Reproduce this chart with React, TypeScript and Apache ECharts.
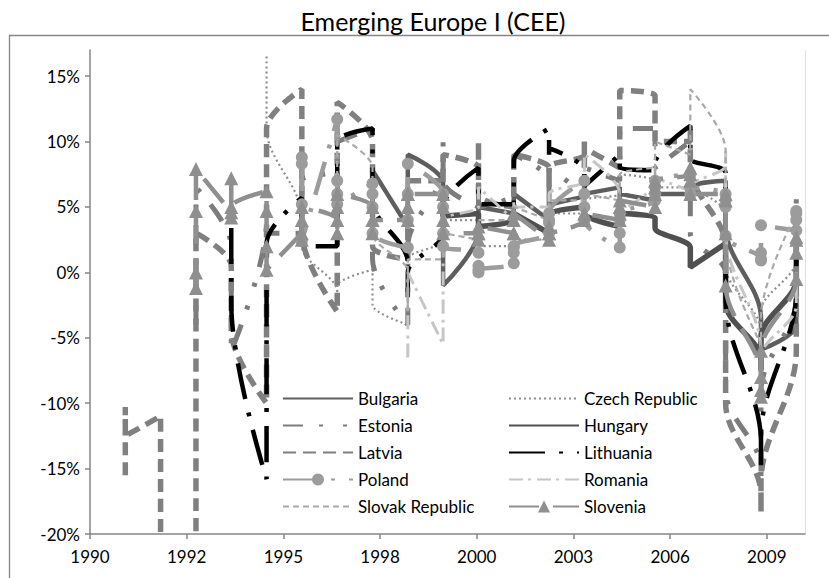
import React, { useEffect, useRef } from "react";
import * as echarts from "echarts";

// ---- data (quarterly y/y values, %, four per year, all plotted at the year's date) ----
const chartTitle = "Emerging Europe I (CEE)";
const xTickDays = [0, 1000, 2000, 3000, 4000, 5000, 6000, 7000];
const yTicks = [-0.2, -0.15, -0.1, -0.05, 0, 0.05, 0.1, 0.15];
const legendLeftColumn = ["Bulgaria", "Estonia", "Latvia", "Poland", "Slovak Republic"];
const legendRightColumn = ["Czech Republic", "Hungary", "Lithuania", "Romania", "Slovenia"];

const bulgariaStart = 1998;
const bulgaria = [
  6, 7, 7.5, 7.8,
  3.5, 5, 7, 9,
  6.8, 3, 1, -1,
  3.2, 4, 4.5, 5,
  4.5, 4.8, 5.5, 6,
  4, 4.5, 5, 5,
  6, 6.5, 6.5, 6,
  6.5, 6, 5.5, 6,
  5.5, 6.5, 6.5, 6,
  6, 6.5, 5.5, 6.5,
  7, 7, 6.8, 3.5,
  -3.5, -5, -5.4, -5.9,
  -4, -1.5, 0.5, 2,
];

const czechStart = 1995;
const czech = [
  16.5, 13, 11.3, 11,
  4.2, 3.5, 3, 2,
  -1.5, -2, -1.5, -1,
  0.2, -1, -2, -2.5,
  -4, -2, 0, 1,
  2.5, 3.5, 4.5, 4,
  4, 3, 2.5, 2,
  2, 1.5, 1.5, 2.5,
  2.5, 3.5, 4, 4.5,
  4.5, 4.5, 5, 5.5,
  6, 6.5, 7, 7.5,
  7, 7, 7, 6.5,
  6.5, 6, 6, 6.5,
  4.5, 4.5, 3.5, 0.5,
  -4.5, -5, -4.5, -3,
  1, 2.5, 2.5, 2.5,
];

const estoniaStart = 1993;
const estonia = [
  -4, 0, 4, 6.5,
  2, -1, -4, -6,
  4, 5, 4, 3,
  3, 4, 5, 7,
  8, 12, 13, 10,
  11, 6, 4, 1,
  -4, -3, -1, 2,
  8, 10, 9, 7,
  5, 7, 6, 5,
  6, 7, 8, 9,
  7, 5, 6, 8,
  6, 7, 6, 8,
  7, 9, 10, 11,
  11, 10, 9, 8,
  10, 7, 5, 3,
  0, -1, -3, -9,
  -15, -16, -15, -9,
  -2, 3, 5, 6.5,
];

const hungaryStart = 2000;
const hungary = [
  6.5, 5.5, 5, 4.3,
  4.5, 4, 3.8, 3.5,
  4, 4.5, 4.3, 4.5,
  3, 3.5, 4.3, 4.5,
  5, 5, 4.8, 4.5,
  3.5, 4.3, 4.5, 4.5,
  4.2, 3.8, 3.6, 3.4,
  1.9, 1.2, 0.8, 0.4,
  2.2, 2, 0.8, -2.3,
  -6.7, -7.5, -7.2, -5,
  -0.5, 0.5, 2, 2.5,
];

const latviaStart = 1991;
const latvia = [
  -15.5, -13, -10.3, -12.5,
  -11, -25, -32, -35,
  -30, -20, -6, 3,
  0.5, -2, -4, -4.5,
  -10, -2, 6, 11,
  14, 10, 6, 3,
  -3, 4, 9, 13,
  10, 8, 5, 2,
  1, 3, 5, 7,
  7, 6, 8, 9,
  8, 7, 10, 6,
  5, 7, 6.5, 9,
  8, 7, 6.5, 8,
  9, 10, 8, 9.5,
  8, 12, 13.5, 13.9,
  13.5, 12, 11, 10,
  10, 11, 9, 8,
  2, -1, -5, -10,
  -17, -18.3, -18, -16,
  -6, -2, 3, 4,
];

const lithuaniaStart = 1994;
const lithuania = [
  3.4, 0.7, -1.9, -2.4,
  -15.8, -11.5, -2.7, 2.2,
  5.7, 4, 3.8, 2,
  2, 4, 8, 10,
  11, 9.3, 7, 5.5,
  0.7, -1.9, -1, 0,
  3, 4, 5, 5,
  8, 7, 6.5, 5.2,
  5.2, 6, 7, 8.5,
  11, 10, 9, 9.5,
  7.8, 7, 6.6, 6.6,
  9, 8.7, 8.5, 8,
  7.8, 8, 8.3, 8.3,
  11.2, 9.5, 8.7, 8.7,
  7.6, 5, 3, -2,
  -13, -15, -14.5, -12.5,
  -1.4, 0, 0.9, 1,
];

const polandStart = 1996;
const poland = [
  8.8, 8.3, 5.2, 2.4,
  11.7, 7, 6, 5.2,
  6.8, 6, 5, 3,
  1.9, 4, 6, 8.3,
  6, 5, 3, 2,
  1.5, 0.5, 0, 0.2,
  0.7, 1.9, 1.5, 2,
  3, 3.8, 4, 4.5,
  7, 6, 5, 4,
  1.9, 3, 4, 4.5,
  5.5, 6, 6.5, 7,
  7.5, 6.5, 6, 6.5,
  6, 5.5, 5, 2.8,
  1, 0.9, 1.5, 3.6,
  3.2, 4, 4.7, 4.5,
];

const romaniaStart = 1999;
const romania = [
  -6.5, -4, -2, 0,
  -5.5, 2, 3, 4,
  5, 5.5, 6, 6.5,
  4, 5, 5.5, 5,
  5, 4.5, 5, 6,
  7, 8, 9, 9,
  6, 4, 3, 4,
  7, 7.5, 8, 7.5,
  6, 6, 5.7, 6.5,
  8.2, 9.3, 9.2, 3,
  -6, -8.5, -7, -6.5,
  -2.5, -0.5, -2, 0,
];

const slovakStart = 1997;
const slovak = [
  5, 6, 7, 10.5,
  8, 6, 4, 3,
  0, -1.5, -3, 1,
  1, 2, 2.5, 3,
  2.5, 3.5, 4, 4,
  4, 4.5, 4, 5,
  4, 4.5, 5, 5.5,
  5.5, 5.5, 5.5, 6,
  5.5, 6, 7, 7.5,
  8, 7.5, 9.5, 10,
  9, 9.4, 9.5, 14,
  9.3, 7.5, 6.6, 2.5,
  -5.5, -5, -4.5, -3.5,
  4.5, 4, 3.5, 3.5,
];

const sloveniaStart = 1993;
const slovenia = [
  -1.2, 0, 4.7, 7.9,
  4.6, 7.2, 4.2, 5,
  6.2, 4.7, 2, 0.2,
  3, 2.5, 4, 5,
  4, 3, 5, 6,
  5, 4, 3, 4,
  4, 5, 6, 6,
  6, 5, 4, 3,
  3, 2.5, 3, 3.5,
  3, 3, 4, 4.5,
  2.5, 3, 3.5, 3,
  4, 4.5, 4, 4.5,
  4, 4.5, 5, 5.5,
  5, 6, 6.5, 7,
  7.5, 8, 7, 6,
  6, 5.5, 3, -1,
  -8, -9.5, -9, -6,
  -0.5, 1.5, 2.5, 2.7,
];

// ---- helpers ----
const EPOCH = Date.UTC(1990, 0, 1);
const DAY = 86400000;
const daysOfYear = (y: number) => (Date.UTC(y, 0, 1) - EPOCH) / DAY;
const toPoints = (start: number, vals: number[]) =>
  vals.map((v, i) => [daysOfYear(start + Math.floor(i / 4)), v / 100]);

const FONT = "Lato";

type Style = {
  color: string;
  width: number;
  dash: any;
  symbol?: string;
  symbolSize?: number;
};

const seriesDefs: [string, number, number[], Style][] = [
  ["Bulgaria", bulgariaStart, bulgaria, { color: "#5e5e5e", width: 4.5, dash: "solid" }],
  ["Czech Republic", czechStart, czech, { color: "#8e8e8e", width: 2.2, dash: [2, 3] }],
  ["Estonia", estoniaStart, estonia, { color: "#7c7c7c", width: 5, dash: [20, 16, 4, 20, 4, 16] }],
  ["Hungary", hungaryStart, hungary, { color: "#505050", width: 5.5, dash: "solid" }],
  ["Latvia", latviaStart, latvia, { color: "#808080", width: 5.5, dash: [13, 7] }],
  ["Lithuania", lithuaniaStart, lithuania, { color: "#000000", width: 4.5, dash: [36, 14, 4, 14] }],
  ["Poland", polandStart, poland, { color: "#9c9c9c", width: 4.5, dash: [34, 14, 4, 14], symbol: "circle", symbolSize: 12 }],
  ["Romania", romaniaStart, romania, { color: "#c6c6c6", width: 3, dash: [14, 5, 3, 6] }],
  ["Slovak Republic", slovakStart, slovak, { color: "#a9a9a9", width: 2.2, dash: [6, 4] }],
  ["Slovenia", sloveniaStart, slovenia, { color: "#8f8f8f", width: 4.5, dash: [30, 14], symbol: "triangle", symbolSize: 14 }],
];

const hasSymbol = (name: string) => !!seriesDefs.find((d) => d[0] === name)?.[3].symbol;
const legendItems = (names: string[]) =>
  names.map((n) => (hasSymbol(n) ? { name: n } : { name: n, itemStyle: { opacity: 0 } }));

export default function App() {
  const ref = useRef<HTMLDivElement>(null);
  useEffect(() => {
    if (!ref.current) return;
    const chart = echarts.init(ref.current, undefined, { renderer: "svg" });

    const series = seriesDefs.map(([name, start, vals, st]) => ({
      name,
      type: "line",
      data: toPoints(start, vals),
      smooth: 0.35,
      symbol: st.symbol || "none",
      symbolSize: st.symbolSize || 0,
      showSymbol: !!st.symbol,
      showAllSymbol: true,
      clip: true,
      lineStyle: { color: st.color, width: st.width, type: st.dash, cap: "butt" },
      itemStyle: { color: st.color, borderWidth: 0 },
      emphasis: { disabled: true },
    }));

    const legendCommon = {
      orient: "vertical",
      top: 390,
      itemWidth: 70,
      itemHeight: 15,
      itemGap: 10,
      padding: 0,
      selectedMode: false,
      textStyle: { fontFamily: FONT, fontSize: 17, color: "#000" },
    };

    chart.setOption({
      animation: false,
      backgroundColor: "#ffffff",
      title: {
        text: chartTitle,
        left: 428,
        top: 3,
        textAlign: "center",
        textStyle: { fontFamily: FONT, fontSize: 25, fontWeight: "normal", color: "#000" },
      },
      grid: { left: 90, right: 24, top: 50, bottom: 44 },
      xAxis: {
        type: "value",
        min: 0,
        max: daysOfYear(2010) + 90,
        splitLine: { show: false },
        axisLine: { onZero: false, lineStyle: { color: "#868686", width: 1.5 } },
        axisTick: { show: true, length: 5, lineStyle: { color: "#868686", width: 1.5 }, customValues: xTickDays },
        axisLabel: {
          customValues: xTickDays,
          fontFamily: FONT,
          fontSize: 17,
          color: "#000",
          margin: 14,
          formatter: (v: number) => String(new Date(EPOCH + v * DAY).getUTCFullYear()),
        },
      },
      yAxis: {
        type: "value",
        min: -0.2,
        max: 0.17,
        splitLine: { show: false },
        axisLine: { show: true, onZero: false, lineStyle: { color: "#868686", width: 1.5 } },
        axisTick: { show: true, length: 5, lineStyle: { color: "#868686", width: 1.5 }, customValues: yTicks },
        axisLabel: {
          customValues: yTicks,
          fontFamily: FONT,
          fontSize: 17,
          color: "#000",
          margin: 10,
          formatter: (v: number) => `${Math.round(v * 100)}%`,
        },
      },
      legend: [
        { ...legendCommon, left: 282, data: legendItems(legendLeftColumn) },
        { ...legendCommon, left: 508, data: legendItems(legendRightColumn) },
      ],
      graphic: [
        {
          type: "rect",
          silent: true,
          shape: { x: 9.5, y: 35.5, width: 840, height: 600 },
          style: { fill: "none", stroke: "#868686", lineWidth: 1.3 },
          z: -10,
        },
        {
          type: "line",
          silent: true,
          shape: { x1: 805.5, y1: 50, x2: 805.5, y2: 534 },
          style: { stroke: "#dbe2ee", lineWidth: 1 },
        },
      ],
      series,
    });
    return () => chart.dispose();
  }, []);
  return (
    <div
      ref={ref}
      style={{ position: "fixed", left: 0, top: 0, width: 829, height: 578, background: "#fff" }}
    />
  );
}
